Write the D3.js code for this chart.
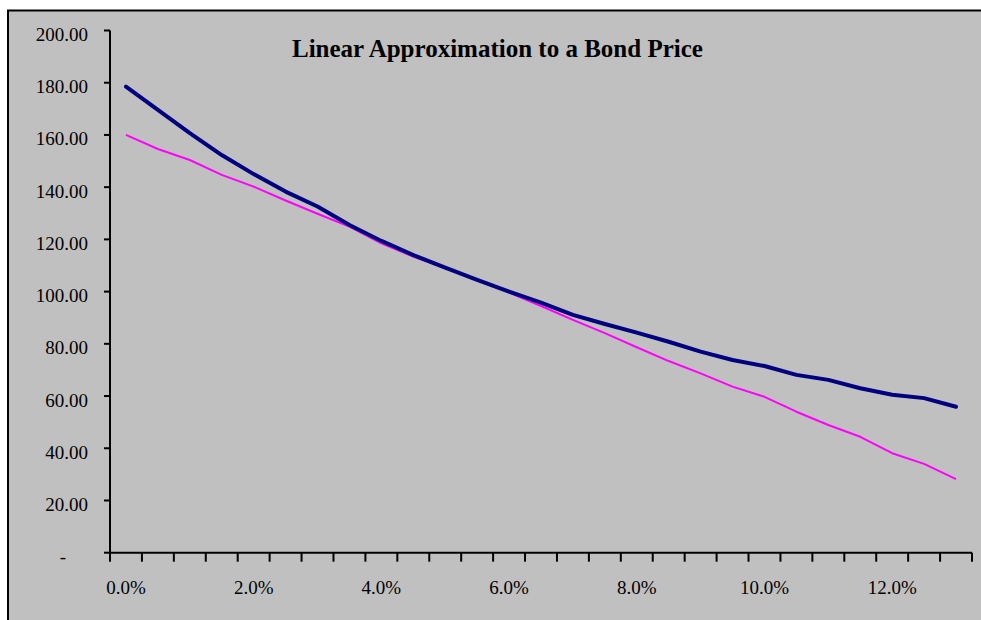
<!DOCTYPE html>
<html>
<head>
<meta charset="utf-8">
<script src="https://cdn.jsdelivr.net/npm/d3@7"></script>
<style>
  html, body { margin: 0; padding: 0; background: #ffffff; }
  svg { display: block; }
  text { font-family: "Times New Roman", "Liberation Serif", serif; fill: #000; }
</style>
</head>
<body>
<svg id="chart" width="981" height="620"></svg>
<script>
// Yield levels (categories on the x axis)
const yields = ["0.0%","0.5%","1.0%","1.5%","2.0%","2.5%","3.0%","3.5%","4.0%","4.5%",
                "5.0%","5.5%","6.0%","6.5%","7.0%","7.5%","8.0%","8.5%","9.0%","9.5%",
                "10.0%","10.5%","11.0%","11.5%","12.0%","12.5%","13.0%"];

// Actual bond price at each yield
const bondPrice = [178.5, 169.6, 160.7, 152.3, 145.0, 138.3, 132.6, 125.5, 119.4, 114.0,
                   109.2, 104.5, 100.0, 95.8, 91.1, 87.6, 84.3, 80.8, 77.0, 73.8,
                   71.5, 68.1, 66.2, 63.0, 60.5, 59.2, 55.9];

// Linear (duration) approximation of the price
const linearApprox = [160.0, 154.6, 150.4, 144.7, 140.2, 134.9, 129.8, 124.9, 118.5, 113.4,
                      109.0, 104.5, 99.6, 94.5, 89.2, 84.1, 78.7, 73.4, 68.7, 63.6,
                      59.7, 54.0, 48.9, 44.4, 38.1, 34.0, 28.2];

// Value-axis ticks and the yields that carry a label
const priceTicks = [0, 20, 40, 60, 80, 100, 120, 140, 160, 180, 200];
const labelledYields = ["0.0%","2.0%","4.0%","6.0%","8.0%","10.0%","12.0%"];

const chartTitle = "Linear Approximation to a Bond Price";

const svg = d3.select("#chart");

// Chart area frame
svg.append("rect")
  .attr("x", 8).attr("y", 10.5)
  .attr("width", 1000).attr("height", 640)
  .attr("fill", "#c0c0c0")
  .attr("stroke", "#000").attr("stroke-width", 2);

const plot = { left: 110, right: 972, top: 30.5, bottom: 552.7 };

const x = d3.scaleBand().domain(yields).range([plot.left, plot.right]).padding(0);
const y = d3.scaleLinear().domain([0, 200]).range([plot.bottom, plot.top]);
const cx = d => x(d) + x.bandwidth() / 2;

// Y axis
const yAxis = svg.append("g");
yAxis.append("line")
  .attr("x1", plot.left).attr("x2", plot.left)
  .attr("y1", y(200)).attr("y2", y(0))
  .attr("stroke", "#000").attr("stroke-width", 2);
yAxis.selectAll(".ytick").data(priceTicks).enter().append("line")
  .attr("x1", plot.left - 6).attr("x2", plot.left)
  .attr("y1", d => y(d)).attr("y2", d => y(d))
  .attr("stroke", "#000").attr("stroke-width", 2);
yAxis.selectAll(".ylab").data(priceTicks).enter().append("text")
  .attr("x", d => d === 0 ? 66 : 88)
  .attr("y", d => y(d) + 10.5)
  .attr("text-anchor", "end")
  .attr("font-size", 19)
  .text(d => d === 0 ? "-" : d3.format(".2f")(d));

// X axis with tick marks between categories
const xAxis = svg.append("g");
xAxis.append("line")
  .attr("x1", plot.left).attr("x2", plot.right)
  .attr("y1", y(0)).attr("y2", y(0))
  .attr("stroke", "#000").attr("stroke-width", 2);
const boundaries = yields.map(d => x(d)).concat([x(yields[yields.length - 1]) + x.bandwidth()]);
xAxis.selectAll(".xtick").data(boundaries).enter().append("line")
  .attr("x1", d => d).attr("x2", d => d)
  .attr("y1", y(0)).attr("y2", y(0) + 9)
  .attr("stroke", "#000").attr("stroke-width", 2);
xAxis.selectAll(".xlab").data(labelledYields).enter().append("text")
  .attr("x", d => cx(d))
  .attr("y", 594)
  .attr("text-anchor", "middle")
  .attr("font-size", 19)
  .text(d => d);

// Series lines
const line = d3.line()
  .x((d, i) => cx(yields[i]))
  .y(d => y(d));

svg.append("path")
  .datum(linearApprox)
  .attr("d", line)
  .attr("fill", "none")
  .attr("stroke", "#ff00ff")
  .attr("stroke-width", 2)
  .attr("stroke-linejoin", "round");

svg.append("path")
  .datum(bondPrice)
  .attr("d", line)
  .attr("fill", "none")
  .attr("stroke", "#000080")
  .attr("stroke-width", 4)
  .attr("stroke-linejoin", "round")
  .attr("stroke-linecap", "round");

// Title
svg.append("text")
  .attr("x", 292)
  .attr("y", 57)
  .attr("font-size", 25)
  .attr("font-weight", "bold")
  .text(chartTitle);
</script>
</body>
</html>
